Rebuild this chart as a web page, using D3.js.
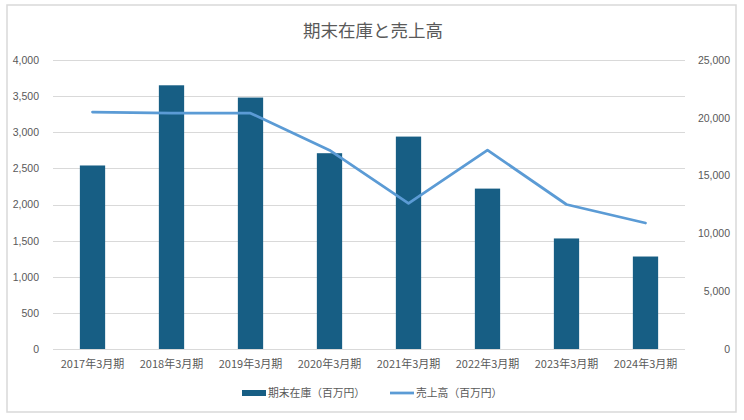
<!DOCTYPE html>
<html><head><meta charset="utf-8">
<script src="https://cdn.jsdelivr.net/npm/d3@7"></script>
<style>
html,body{margin:0;padding:0;background:#fff;}
text{font-family:"Noto Sans CJK JP","Noto Sans",sans-serif;}
</style></head>
<body><svg id="c" width="744" height="420"></svg>
<script>
const categories = ["2017年3月期","2018年3月期","2019年3月期","2020年3月期","2021年3月期","2022年3月期","2023年3月期","2024年3月期"];
const inventory = [2540, 3650, 3480, 2710, 2940, 2220, 1530, 1280];
const sales = [20500, 20400, 20400, 17200, 12600, 17200, 12500, 10900];
const leftTicks = [0,500,1000,1500,2000,2500,3000,3500,4000];
const rightTicks = [0,5000,10000,15000,20000,25000];
const title = "期末在庫と売上高";
const seriesNames = ["期末在庫（百万円）","売上高（百万円）"];

const svg = d3.select("#c");
const m = {left:53, right:685, top:60, bottom:349};
const barColor = "#175e84", lineColor = "#5b9bd5", textColor = "#595959", gridColor = "#d9d9d9";

svg.append("rect").attr("x",7).attr("y",5).attr("width",729).attr("height",407)
  .attr("fill","#fff").attr("stroke","#d9d9d9").attr("stroke-width",1.5);

const x = d3.scaleBand().domain(categories).range([m.left,m.right]).paddingInner(0.68).paddingOuter(0.34);
const yL = d3.scaleLinear().domain([0,4000]).range([m.bottom,m.top]);
const yR = d3.scaleLinear().domain([0,25000]).range([m.bottom,m.top]);
const fmt = d3.format(",");

svg.append("g").selectAll("line").data(leftTicks).join("line")
  .attr("x1",m.left).attr("x2",m.right)
  .attr("y1",d=>Math.round(yL(d))+0.5).attr("y2",d=>Math.round(yL(d))+0.5)
  .attr("stroke",gridColor).attr("stroke-width",1);

const gL = svg.append("g").attr("transform",`translate(${m.left-11},0)`)
  .call(d3.axisLeft(yL).tickValues(leftTicks).tickFormat(fmt).tickSize(0));
gL.select(".domain").remove();
gL.selectAll("text").attr("fill",textColor).style("font-size","10.5px").style("font-family","'Liberation Sans','Noto Sans',sans-serif");

const gR = svg.append("g").attr("transform",`translate(${m.right+48},0)`)
  .call(d3.axisLeft(yR).tickValues(rightTicks).tickFormat(fmt).tickSize(0));
gR.select(".domain").remove();
gR.selectAll("text").attr("fill",textColor).style("font-size","10.5px").style("font-family","'Liberation Sans','Noto Sans',sans-serif");

const gX = svg.append("g").attr("transform",`translate(0,${m.bottom})`)
  .call(d3.axisBottom(x).tickSize(0).tickPadding(11));
gX.select(".domain").remove();
gX.selectAll("text").attr("fill",textColor).style("font-size","11px");

svg.append("g").selectAll("rect").data(inventory).join("rect")
  .attr("x",(d,i)=>x(categories[i])).attr("width",x.bandwidth())
  .attr("y",d=>yL(d)).attr("height",d=>yL(0)-yL(d)).attr("fill",barColor);

const line = d3.line().x((d,i)=>x(categories[i])+x.bandwidth()/2).y(d=>yR(d));
svg.append("path").datum(sales).attr("d",line).attr("fill","none")
  .attr("stroke",lineColor).attr("stroke-width",2.75).attr("stroke-linejoin","round").attr("stroke-linecap","round");

svg.append("text").attr("x",373).attr("y",37).attr("text-anchor","middle")
  .attr("fill",textColor).style("font-size","17.5px").text(title);

const lg = svg.append("g");
lg.append("rect").attr("x",242).attr("y",390).attr("width",24).attr("height",6).attr("fill",barColor);
lg.append("text").attr("x",268).attr("y",397).attr("fill",textColor).style("font-size","10.8px").text(seriesNames[0]);
lg.append("line").attr("x1",390).attr("x2",414).attr("y1",393).attr("y2",393).attr("stroke",lineColor).attr("stroke-width",2.75);
lg.append("text").attr("x",416).attr("y",397).attr("fill",textColor).style("font-size","10.8px").text(seriesNames[1]);
</script></body></html>
